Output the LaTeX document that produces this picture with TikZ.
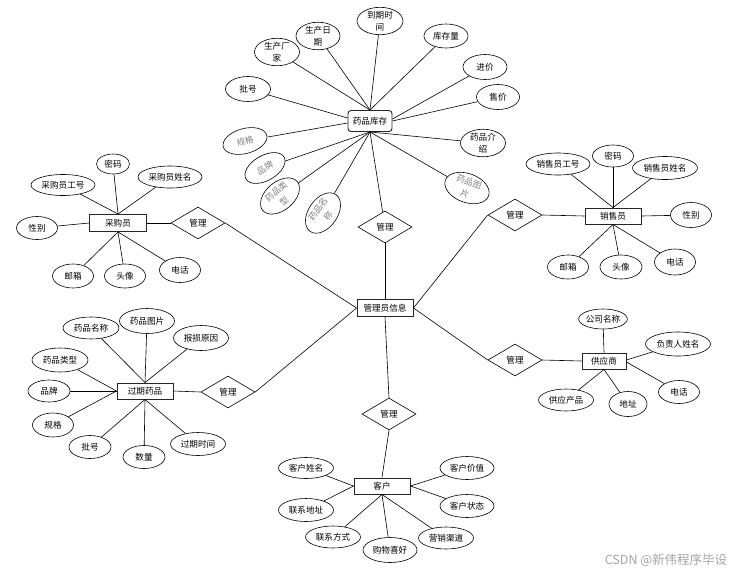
\documentclass[tikz,border=0pt]{standalone}
\usepackage{fontspec}
\setmainfont{Noto Sans CJK SC}
\usetikzlibrary{shapes.geometric,shapes.misc}
\begin{document}
\begin{tikzpicture}[x=1pt,y=-1pt,
  every node/.style={font=\fontsize{8.6}{11.5}\selectfont, inner sep=0pt, align=center},
  attr/.style={ellipse, draw, line width=0.6pt},
  ent/.style={rectangle, draw=black!85, line width=0.95pt, minimum width=56pt, minimum height=16pt},
  rel/.style={diamond, draw, line width=0.6pt, minimum width=54pt, minimum height=32pt, aspect=1.7},
  grayattr/.style={attr, text=black!50, font=\fontsize{8.6}{12.5}\selectfont},
  conn/.style={line width=0.6pt}
]
\useasboundingbox (0,0) rectangle (742,574);
\fill[white] (0,0) rectangle (742,574);

% ---------- centre
\node[ent, minimum height=17pt] (adm) at (385,308) {管理员信息};

% ---------- top cluster: 药品库存
\node[ent, rounded corners=3pt, minimum width=44pt, minimum height=21pt] (kc) at (370,121) {药品库存};
\node[attr, minimum width=46pt, minimum height=27pt] (t1) at (380,21) {到期时\\间};
\node[attr, minimum width=44pt, minimum height=25pt] (t2) at (318,36) {生产日\\期};
\node[attr, minimum width=45pt, minimum height=25pt] (t3) at (277,52) {生产厂\\家};
\node[attr, minimum width=45pt, minimum height=25pt] (t4) at (248,89) {批号};
\node[attr, minimum width=44pt, minimum height=24pt] (t5) at (446,36) {库存量};
\node[attr, minimum width=44pt, minimum height=25pt] (t6) at (485,67) {进价};
\node[attr, minimum width=43pt, minimum height=25pt] (t7) at (498,97) {售价};
\node[attr, minimum width=45pt, minimum height=25pt] (t8) at (483,143) {药品介\\绍};
\node[grayattr, rotate=-20, minimum width=46pt, minimum height=27pt] (t9) at (467,188) {药品图\\片};
\node[grayattr, rotate=15, minimum width=45pt, minimum height=25pt] (t10) at (245,141) {规格};
\node[grayattr, rotate=30, minimum width=44pt, minimum height=25pt] (t11) at (265,168) {品牌};
\node[grayattr, rotate=40, minimum width=45pt, minimum height=27pt] (t12) at (280,196) {药品类\\型};
\node[grayattr, rotate=55, minimum width=45pt, minimum height=27pt] (t13) at (323,213) {药品名\\称};
\node[rel] (dtop) at (385,227) {管理};

\foreach \n in {t1,t2,t3,t5} \draw[conn] (kc.north) -- (\n);
\draw[conn] ([yshift=2pt]kc.east) -- (t6);
\draw[conn] (kc.east) -- (t7);
\draw[conn] ([yshift=3pt]kc.west) -- (t4);
\draw[conn] ([yshift=-2pt]kc.west) -- (t10);
\foreach \n in {t8,t9,t11,t12,t13} \draw[conn] (kc.south) -- (\n);
\draw[conn] (kc.south) -- (dtop);
\draw[conn] (dtop) -- (adm);

% ---------- left: 采购员
\node[ent, minimum width=57pt, minimum height=17pt] (buy) at (118,223) {采购员};
\node[attr, minimum width=33pt, minimum height=20pt] (b1) at (113,164) {密码};
\node[attr, minimum width=64pt, minimum height=21pt] (b2) at (63,185) {采购员工号};
\node[attr, minimum width=64pt, minimum height=22pt] (b3) at (170,177) {采购员姓名};
\node[attr, minimum width=41pt, minimum height=23pt] (b4) at (37,228) {性别};
\node[attr, minimum width=41pt, minimum height=24pt] (b5) at (73,276) {邮箱};
\node[attr, minimum width=41pt, minimum height=24pt] (b6) at (125,276) {头像};
\node[attr, minimum width=41pt, minimum height=25pt] (b7) at (180,270) {电话};
\node[rel] (dl) at (198,223) {管理};
\foreach \n in {b1,b2,b3} \draw[conn] (buy.north) -- (\n);
\draw[conn] (buy.west) -- (b4);
\foreach \n in {b5,b6,b7} \draw[conn] (buy.south) -- (\n);
\draw[conn] (buy.east) -- (dl.west);
\draw[conn] (dl.east) -- (adm.west);

% ---------- right: 销售员
\node[ent] (sell) at (613,216) {销售员};
\node[attr, minimum width=64pt, minimum height=22pt] (s1) at (558,164) {销售员工号};
\node[attr, minimum width=41pt, minimum height=22pt] (s2) at (613,156) {密码};
\node[attr, minimum width=65pt, minimum height=23pt] (s3) at (665,168) {销售员姓名};
\node[attr, minimum width=41pt, minimum height=25pt] (s4) at (691,215) {性别};
\node[attr, minimum width=41pt, minimum height=24pt] (s5) at (568,267) {邮箱};
\node[attr, minimum width=42pt, minimum height=24pt] (s6) at (621,267) {头像};
\node[attr, minimum width=41pt, minimum height=26pt] (s7) at (675,262) {电话};
\node[rel] (dr) at (515,215) {管理};
\foreach \n in {s1,s2,s3} \draw[conn] (sell.north) -- (\n);
\draw[conn] (sell.east) -- (s4);
\foreach \n in {s5,s6,s7} \draw[conn] (sell.south) -- (\n);
\draw[conn] (sell.west) -- (dr.east);
\draw[conn] (dr.west) -- (adm.east);

% ---------- lower left: 过期药品
\node[ent] (exp) at (145,391) {过期药品};
\node[attr, minimum width=56pt, minimum height=22pt] (x1) at (91,328) {药品名称};
\node[attr, minimum width=55pt, minimum height=25pt] (x2) at (147,321) {药品图片};
\node[attr, minimum width=55pt, minimum height=25pt] (x3) at (201,338) {报损原因};
\node[attr, minimum width=56pt, minimum height=24pt] (x4) at (60,360) {药品类型};
\node[attr, minimum width=42pt, minimum height=22pt] (x5) at (49,391) {品牌};
\node[attr, minimum width=41pt, minimum height=24pt] (x6) at (53,425) {规格};
\node[attr, minimum width=42pt, minimum height=23pt] (x7) at (90,447) {批号};
\node[attr, minimum width=42pt, minimum height=23pt] (x8) at (144,457) {数量};
\node[attr, minimum width=55pt, minimum height=23pt] (x9) at (198,444) {过期时间};
\node[rel] (dll) at (228,392) {管理};
\foreach \n in {x1,x2,x3} \draw[conn] (exp.north) -- (\n);
\foreach \n in {x4,x5,x6} \draw[conn] (exp.west) -- (\n);
\foreach \n in {x7,x8,x9} \draw[conn] (exp.south) -- (\n);
\draw[conn] (exp.east) -- (dll.west);
\draw[conn] (dll.east) -- (adm.west);

% ---------- lower right: 供应商
\node[ent, minimum width=44pt] (sup) at (604,361) {供应商};
\node[attr, minimum width=47pt, minimum height=20pt] (p1) at (603,319) {公司名称};
\node[attr, minimum width=65pt, minimum height=24pt] (p2) at (678,344) {负责人姓名};
\node[attr, minimum width=41pt, minimum height=23pt] (p3) at (679,392) {电话};
\node[attr, minimum width=38pt, minimum height=25pt] (p4) at (628,404) {地址};
\node[attr, minimum width=55pt, minimum height=22pt] (p5) at (566,400) {供应产品};
\node[rel] (drb) at (515,360) {管理};
\draw[conn] (sup.north) -- (p1);
\draw[conn] ([yshift=1pt]sup.east) -- (p2);
\draw[conn] ([yshift=-1pt]sup.east) -- (p3);
\draw[conn] (sup.south) -- (p4);
\draw[conn] (sup.south) -- (p5);
\draw[conn] (sup.west) -- (drb.east);
\draw[conn] (drb.west) -- (adm.east);

% ---------- bottom: 客户
\node[ent] (cus) at (382,486) {客户};
\node[attr, minimum width=55pt, minimum height=21pt] (c1) at (306,468) {客户姓名};
\node[attr, minimum width=55pt, minimum height=23pt] (c2) at (306,510) {联系地址};
\node[attr, minimum width=55pt, minimum height=22pt] (c3) at (333,537) {联系方式};
\node[attr, minimum width=54pt, minimum height=25pt] (c4) at (390,550) {购物喜好};
\node[attr, minimum width=55pt, minimum height=22pt] (c5) at (446,538) {营销渠道};
\node[attr, minimum width=54pt, minimum height=23pt] (c6) at (467,468) {客户价值};
\node[attr, minimum width=54pt, minimum height=23pt] (c7) at (467,506) {客户状态};
\node[rel] (db) at (389,414) {管理};
\foreach \n in {c1,c2} \draw[conn] (cus.west) -- (\n);
\foreach \n in {c3,c4,c5} \draw[conn] (cus.south) -- (\n);
\foreach \n in {c6,c7} \draw[conn] (cus.east) -- (\n);
\draw[conn] (db.south) -- (cus.north);
\draw[conn] (adm.south) -- (db.north);

% ---------- watermark
\node[text=black!35, font=\fontsize{12.5}{14}\selectfont] (wm) at (666,560) {CSDN @新伟程序毕设};
\end{tikzpicture}
\end{document}
